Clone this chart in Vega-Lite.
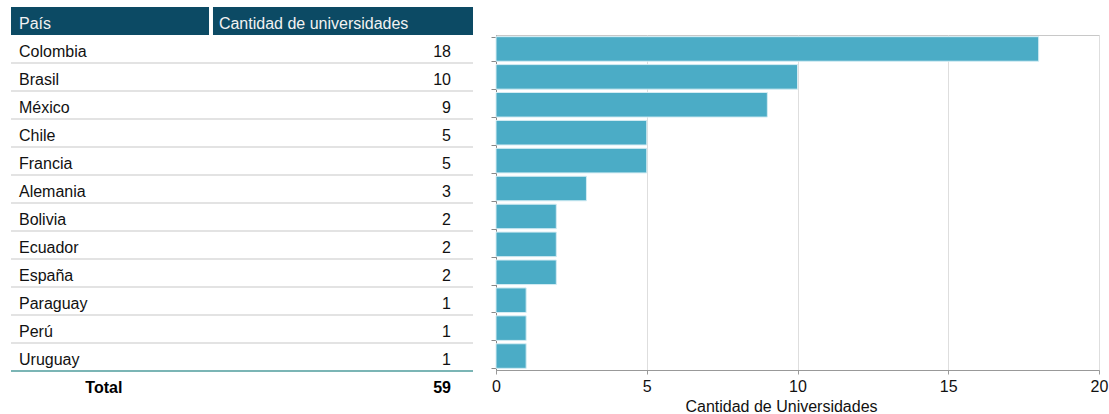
{
  "$schema": "https://vega.github.io/schema/vega-lite/v6.json",
  "padding": {"left": 10, "top": 7, "right": 0, "bottom": 0},
  "background": "white",
  "config": {"font": "Liberation Sans", "view": {"stroke": null}, "concat": {"spacing": 16}},
  "datasets": {
    "paises": [
      {"fila": "Colombia", "n": 18},
      {"fila": "Brasil", "n": 10},
      {"fila": "México", "n": 9},
      {"fila": "Chile", "n": 5},
      {"fila": "Francia", "n": 5},
      {"fila": "Alemania", "n": 3},
      {"fila": "Bolivia", "n": 2},
      {"fila": "Ecuador", "n": 2},
      {"fila": "España", "n": 2},
      {"fila": "Paraguay", "n": 1},
      {"fila": "Perú", "n": 1},
      {"fila": "Uruguay", "n": 1}
    ],
    "encabezado": [
      {"fila": "País", "col1": "País", "col2": "Cantidad de universidades"}
    ],
    "total": [
      {"fila": "Total", "texto": "Total", "valor": 59}
    ]
  },
  "hconcat": [
    {
      "width": 462,
      "height": 364,
      "encoding": {
        "y": {
          "field": "fila",
          "type": "nominal",
          "sort": null,
          "scale": {
            "domain": ["País", "Colombia", "Brasil", "México", "Chile", "Francia", "Alemania", "Bolivia", "Ecuador", "España", "Paraguay", "Perú", "Uruguay", "Total"],
            "range": [-28, 364],
            "paddingInner": 0,
            "paddingOuter": 0
          },
          "axis": null
        }
      },
      "layer": [
        {
          "data": {"name": "encabezado"},
          "mark": {"type": "bar", "color": "#0c4a64"},
          "encoding": {
            "x": {"datum": 0, "type": "quantitative", "scale": {"domain": [0, 100], "nice": false, "zero": false}, "axis": null},
            "x2": {"datum": 42.86}
          }
        },
        {
          "data": {"name": "encabezado"},
          "mark": {"type": "bar", "color": "#0c4a64"},
          "encoding": {
            "x": {"datum": 43.72, "type": "quantitative"},
            "x2": {"datum": 100}
          }
        },
        {
          "data": {"name": "encabezado"},
          "mark": {"type": "text", "align": "left", "baseline": "middle", "dy": 3, "fontSize": 16, "color": "#f2f2f2"},
          "encoding": {
            "x": {"datum": 1.73, "type": "quantitative"},
            "text": {"field": "col1"}
          }
        },
        {
          "data": {"name": "encabezado"},
          "mark": {"type": "text", "align": "left", "baseline": "middle", "dy": 3, "fontSize": 16, "color": "#f2f2f2"},
          "encoding": {
            "x": {"datum": 45.0, "type": "quantitative"},
            "text": {"field": "col2"}
          }
        },
        {
          "data": {"name": "paises"},
          "mark": {"type": "rule", "strokeWidth": 1.5},
          "encoding": {
            "y": {"field": "fila", "type": "nominal", "bandPosition": 1},
            "x": {"datum": 0, "type": "quantitative"},
            "x2": {"datum": 100},
            "color": {
              "condition": {"test": "datum.fila === 'Uruguay'", "value": "#4f9c9c"},
              "value": "#dadada"
            }
          }
        },
        {
          "data": {"name": "paises"},
          "mark": {"type": "text", "align": "left", "baseline": "middle", "dy": 3, "fontSize": 16, "color": "#111111"},
          "encoding": {
            "x": {"datum": 1.73, "type": "quantitative"},
            "text": {"field": "fila"}
          }
        },
        {
          "data": {"name": "paises"},
          "mark": {"type": "text", "align": "right", "baseline": "middle", "dy": 3, "fontSize": 16, "color": "#111111"},
          "encoding": {
            "x": {"datum": 95.24, "type": "quantitative"},
            "text": {"field": "n"}
          }
        },
        {
          "data": {"name": "total"},
          "mark": {"type": "text", "align": "center", "baseline": "middle", "dy": 3, "fontSize": 16, "fontWeight": "bold", "color": "#000000"},
          "encoding": {
            "x": {"datum": 20.1, "type": "quantitative"},
            "text": {"field": "texto"}
          }
        },
        {
          "data": {"name": "total"},
          "mark": {"type": "text", "align": "right", "baseline": "middle", "dy": 3, "fontSize": 16, "fontWeight": "bold", "color": "#000000"},
          "encoding": {
            "x": {"datum": 95.24, "type": "quantitative"},
            "text": {"field": "valor"}
          }
        }
      ]
    },
    {
      "width": 603,
      "height": 335,
      "view": {"stroke": "#c8c8c8"},
      "data": {"name": "paises"},
      "mark": {"type": "bar", "color": "#4bacc6", "stroke": "#d4ecf3", "strokeWidth": 1},
      "encoding": {
        "y": {
          "field": "fila",
          "type": "nominal",
          "sort": null,
          "scale": {"paddingInner": 0.12, "paddingOuter": 0.06},
          "axis": {"labels": false, "title": null, "tickBand": "extent", "tickSize": 5, "domainColor": "#888888", "tickColor": "#888888"}
        },
        "x": {
          "field": "n",
          "type": "quantitative",
          "scale": {"domain": [0, 20], "nice": false},
          "axis": {
            "values": [0, 5, 10, 15, 20],
            "title": "Cantidad de Universidades",
            "titleX": 285,
            "grid": true,
            "gridColor": "#dedede",
            "labelFontSize": 16,
            "labelFlush": false,
            "titleFontSize": 16,
            "titleFontWeight": "normal",
            "labelColor": "#111111",
            "titleColor": "#111111",
            "domainColor": "#999999",
            "tickColor": "#999999",
            "tickSize": 4,
            "labelPadding": 4,
            "titlePadding": 4
          }
        }
      }
    }
  ]
}
